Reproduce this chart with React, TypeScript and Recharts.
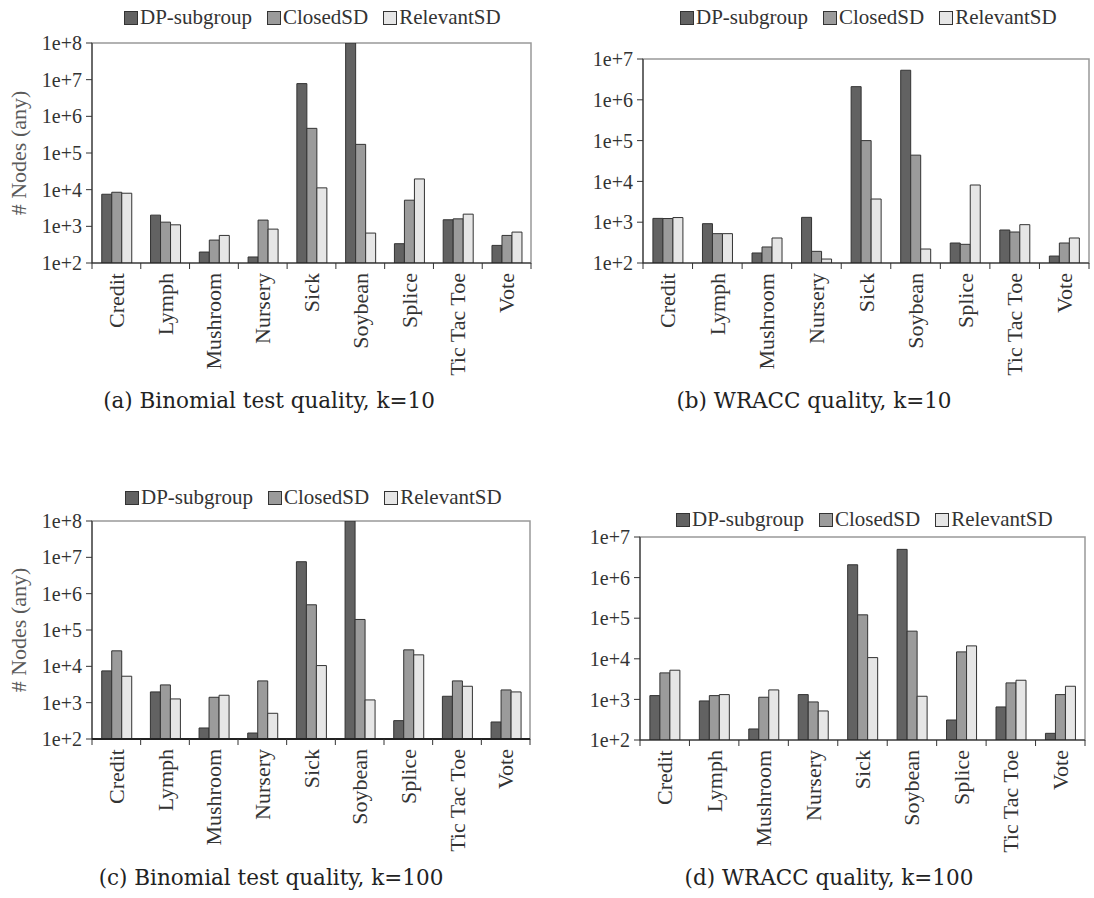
import React from 'react';
import { BarChart, Bar, XAxis, YAxis, Legend, ReferenceArea } from 'recharts';

// categories (datasets) shared by all four panels
const categories = ['Credit', 'Lymph', 'Mushroom', 'Nursery', 'Sick', 'Soybean', 'Splice', 'Tic Tac Toe', 'Vote'];

const seriesNames = ['DP-subgroup', 'ClosedSD', 'RelevantSD'];
const seriesColors = ['#626262', '#9b9b9b', '#e6e6e6'];

// (a) Binomial test quality, k=10
const dpBinom10 = [7500, 2020, 199, 146, 7.8e6, 1e8, 336, 1510, 302];
const closedBinom10 = [8500, 1300, 422, 1480, 4.7e5, 1.72e5, 5160, 1600, 565];
const relevantBinom10 = [8000, 1100, 565, 840, 1.12e4, 655, 19600, 2150, 697];

// (b) WRACC quality, k=10
const dpWracc10 = [1240, 920, 176, 1315, 2.1e6, 5.3e6, 309, 644, 148];
const closedWracc10 = [1230, 524, 247, 193, 1.0e5, 4.4e4, 287, 575, 309];
const relevantWracc10 = [1300, 524, 410, 125, 3700, 220, 8160, 870, 410];

// (c) Binomial test quality, k=100
const dpBinom100 = [7490, 1975, 201, 146, 7.57e6, 1e8, 320, 1500, 294];
const closedBinom100 = [26700, 3080, 1408, 3970, 4.94e5, 1.95e5, 28400, 3970, 2240];
const relevantBinom100 = [5340, 1267, 1600, 510, 1.05e4, 1189, 20700, 2830, 1975];

// (d) WRACC quality, k=100
const dpWracc100 = [1240, 917, 187, 1313, 2.07e6, 4.96e6, 311, 652, 146];
const closedWracc100 = [4500, 1240, 1130, 866, 1.21e5, 4.8e4, 14800, 2550, 1313];
const relevantWracc100 = [5235, 1313, 1713, 519, 1.07e4, 1195, 20800, 2965, 2108];

const ticks8 = [1e2, 1e3, 1e4, 1e5, 1e6, 1e7, 1e8];
const ticks7 = [1e2, 1e3, 1e4, 1e5, 1e6, 1e7];

const FONT = '"Liberation Serif", "Times New Roman", serif';
const CAPTION_FONT = '"DejaVu Serif", serif';
const TICK_SIZE = 6;
const TICK_MARGIN = 4;

const buildRows = (dp: number[], closed: number[], relevant: number[]) =>
  categories.map((name, i) => ({ name, dp: dp[i], closed: closed[i], relevant: relevant[i] }));

const CategoryTick = (props: any) => {
  const { x, y, payload, index } = props;
  const half = payload.offset ?? 24;
  const axisY = y - TICK_SIZE - TICK_MARGIN;
  return (
    <g>
      <line x1={x - half} x2={x - half} y1={axisY} y2={axisY + 6} stroke="#333" />
      {index === categories.length - 1 && (
        <line x1={x + half} x2={x + half} y1={axisY} y2={axisY + 6} stroke="#333" />
      )}
      <text
        x={x}
        y={y}
        transform={`rotate(-90, ${x}, ${y})`}
        textAnchor="end"
        dominantBaseline="central"
        fill="#333"
        fontSize={22}
        fontFamily={FONT}
      >
        {payload.value}
      </text>
    </g>
  );
};

const LegendBox = () => (
  <div style={{ display: 'flex', alignItems: 'center', fontFamily: FONT, fontSize: 21, color: '#333', whiteSpace: 'nowrap' }}>
    {seriesNames.map((n, i) => (
      <span key={n} style={{ display: 'flex', alignItems: 'center', marginRight: 15 }}>
        <span style={{ width: 12, height: 12, background: seriesColors[i], border: '1px solid #333', marginRight: 2 }} />
        {n}
      </span>
    ))}
  </div>
);

interface PanelProps {
  rows: any[];
  ticks: number[];
  left: number;
  top: number;
  width: number;
  height: number;
  margin: { top: number; right: number; bottom: number; left: number };
  yWidth: number;
  yLabel?: boolean;
  legendLeft: number;
  legendTop: number;
  caption: string;
  captionX: number;
  captionY: number;
  baseStroke?: number;
}

const Panel = (p: PanelProps) => {
  const top = p.ticks[p.ticks.length - 1];
  return (
    <>
      <div style={{ position: 'absolute', left: p.left, top: p.top }}>
        <BarChart width={p.width} height={p.height} data={p.rows} margin={p.margin} barCategoryGap="20%" barGap={0}>
          <ReferenceArea x1="Credit" x2="Vote" y1={p.ticks[0]} y2={top} fill="none" stroke="#999" strokeWidth={1.5} />
          <XAxis
            dataKey="name"
            height={130}
            interval={0}
            tickLine={false}
            tickSize={TICK_SIZE}
            tickMargin={TICK_MARGIN}
            axisLine={{ stroke: '#222', strokeWidth: p.baseStroke ?? 1 }}
            tick={<CategoryTick />}
          />
          <YAxis
            type="number"
            scale="log"
            domain={[p.ticks[0], top]}
            ticks={p.ticks}
            allowDataOverflow
            width={p.yWidth}
            tickSize={TICK_SIZE}
            tickMargin={TICK_MARGIN}
            tickFormatter={(v: number) => `1e+${Math.round(Math.log10(v))}`}
            tick={{ fill: '#333', fontSize: 20, fontFamily: FONT }}
            tickLine={{ stroke: '#333' }}
            axisLine={{ stroke: '#222' }}
            label={
              p.yLabel
                ? {
                    value: '# Nodes (any)',
                    angle: -90,
                    position: 'insideLeft',
                    offset: 8,
                    style: { textAnchor: 'middle', fill: '#5a5a5a', fontSize: 22, fontFamily: FONT },
                  }
                : undefined
            }
          />
          <Legend
            layout="horizontal"
            verticalAlign="middle"
            align="center"
            content={<LegendBox />}
            wrapperStyle={{ left: p.legendLeft, top: p.legendTop, width: 'auto' }}
          />
          <Bar dataKey="dp" name={seriesNames[0]} fill={seriesColors[0]} stroke="#333" strokeWidth={1} isAnimationActive={false} />
          <Bar dataKey="closed" name={seriesNames[1]} fill={seriesColors[1]} stroke="#333" strokeWidth={1} isAnimationActive={false} />
          <Bar dataKey="relevant" name={seriesNames[2]} fill={seriesColors[2]} stroke="#333" strokeWidth={1} isAnimationActive={false} />
        </BarChart>
      </div>
      <div
        style={{
          position: 'absolute',
          left: p.captionX - 250,
          top: p.captionY - 15,
          width: 500,
          textAlign: 'center',
          fontFamily: CAPTION_FONT,
          fontSize: 21.5,
          color: '#222',
        }}
      >
        {p.caption}
      </div>
    </>
  );
};

export default function App() {
  return (
    <div style={{ position: 'absolute', left: 0, top: 0, width: 1094, height: 898, background: '#fff' }}>
      <Panel
        rows={buildRows(dpBinom10, closedBinom10, relevantBinom10)}
        ticks={ticks8}
        left={0}
        top={0}
        width={545}
        height={400}
        margin={{ top: 43, right: 14, bottom: 7, left: 10 }}
        yWidth={82}
        yLabel
        legendLeft={124}
        legendTop={5}
        caption="(a) Binomial test quality, k=10"
        captionX={269}
        captionY={403}
      />
      <Panel
        rows={buildRows(dpWracc10, closedWracc10, relevantWracc10)}
        ticks={ticks7}
        left={545}
        top={0}
        width={549}
        height={400}
        margin={{ top: 59, right: 5, bottom: 7, left: 10 }}
        yWidth={88}
        legendLeft={135}
        legendTop={5}
        caption="(b) WRACC quality, k=10"
        captionX={814}
        captionY={403}
      />
      <Panel
        rows={buildRows(dpBinom100, closedBinom100, relevantBinom100)}
        ticks={ticks8}
        left={0}
        top={470}
        width={545}
        height={400}
        margin={{ top: 51, right: 15, bottom: 1, left: 10 }}
        yWidth={82}
        yLabel
        legendLeft={125}
        legendTop={15}
        caption="(c) Binomial test quality, k=100"
        captionX={271}
        captionY={880}
        baseStroke={2}
      />
      <Panel
        rows={buildRows(dpWracc100, closedWracc100, relevantWracc100)}
        ticks={ticks7}
        left={545}
        top={470}
        width={549}
        height={400}
        margin={{ top: 67, right: 9, bottom: 0, left: 10 }}
        yWidth={85}
        legendLeft={131}
        legendTop={37}
        caption="(d) WRACC quality, k=100"
        captionX={829}
        captionY={880}
      />
    </div>
  );
}
